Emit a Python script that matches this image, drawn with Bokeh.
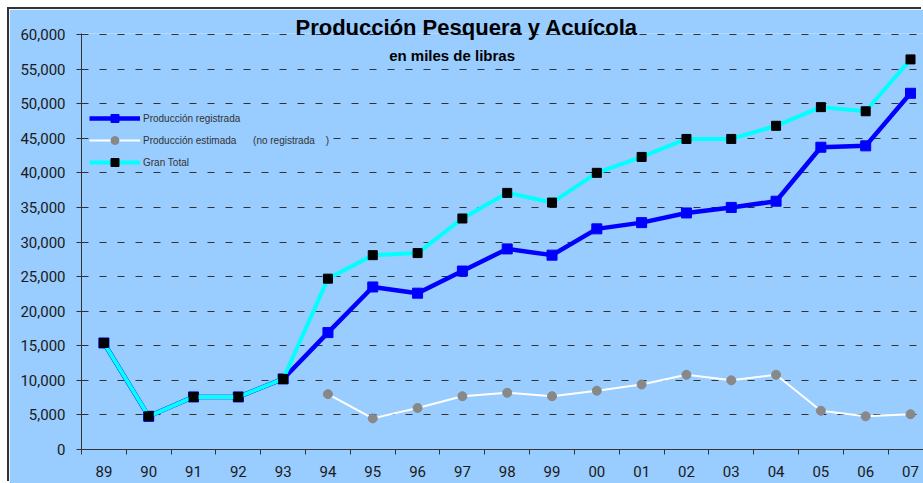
from bokeh.plotting import figure
from bokeh.models import (Range1d, FixedTicker, NumeralTickFormatter, Label,
                          Legend, LegendItem)
from bokeh.embed import file_html
from bokeh.resources import INLINE

# ---- data ----
years = ["89", "90", "91", "92", "93", "94", "95", "96", "97", "98", "99",
         "00", "01", "02", "03", "04", "05", "06", "07"]
registrada = [15400, 4800, 7600, 7600, 10200, 16900, 23500, 22600, 25800,
              29000, 28100, 31900, 32800, 34200, 35000, 35900, 43700, 43900, 51500]
estimada_years = ["94", "95", "96", "97", "98", "99", "00", "01", "02", "03",
                  "04", "05", "06", "07"]
estimada = [8000, 4500, 6000, 7700, 8200, 7700, 8500, 9400, 10800, 10000,
            10800, 5600, 4800, 5100]
total = [15400, 4800, 7600, 7600, 10200, 24700, 28100, 28400, 33400, 37100,
         35700, 40000, 42300, 44900, 44900, 46800, 49500, 48900, 56400]
y_ticks = list(range(0, 60001, 5000))

title_text = "Producción Pesquera y Acuícola"
subtitle_text = "en miles de libras"
legend_labels = ["Producción registrada",
                 "Producción estimada" + "\u00a0" * 5 + " (no registrada" + "\u00a0" * 4 + ")",
                 "Gran Total"]

xpos = {y: i + 0.5 for i, y in enumerate(years)}
x_all = [xpos[y] for y in years]
x_est = [xpos[y] for y in estimada_years]

BG = "#99CCFF"

p = figure(width=914, height=474, output_backend="svg", toolbar_location=None,
           x_range=Range1d(0, 18.79), y_range=Range1d(0, 60145),
           min_border_left=72, min_border_right=0, min_border_top=24,
           min_border_bottom=34,
           background_fill_color=BG, border_fill_color=BG,
           outline_line_color=None,
           margin=(9, 0, 0, 9),
           styles={"box-shadow": "-2px -2px 0 0 #333333"})

# title (above the frame, slightly overlapping it)
p.title.text = title_text
p.title.text_font = "Liberation Sans"
p.title.text_font_style = "bold"
p.title.text_font_size = "22px"
p.title.text_color = "black"
p.title.align = "left"
p.title.offset = 214
p.title.vertical_align = "bottom"
p.title.standoff = -12

# axes
p.xgrid.grid_line_color = None
p.ygrid.grid_line_color = "#333333"
p.ygrid.grid_line_dash = "7 11"
p.ygrid.grid_line_width = 1
p.ygrid.ticker = FixedTicker(ticks=y_ticks)

p.yaxis.ticker = FixedTicker(ticks=y_ticks)
p.yaxis.formatter = NumeralTickFormatter(format="0,0")
p.yaxis.major_tick_in = 5
p.yaxis.major_tick_out = 5
p.yaxis.minor_tick_line_color = None
p.yaxis.major_label_standoff = 11

p.xaxis.ticker = FixedTicker(ticks=x_all, minor_ticks=list(range(0, 20)))
p.xaxis.major_label_overrides = {xpos[y]: y for y in years}
p.xaxis.minor_tick_line_color = "#333333"
p.xaxis.minor_tick_in = 0
p.xaxis.minor_tick_out = 5
p.xaxis.major_label_standoff = 10

for ax in (p.xaxis, p.yaxis):
    ax.axis_line_color = "#333333"
    ax.major_label_text_font = "Roboto"
    ax.major_label_text_font_size = "15px"
    ax.major_label_text_color = "#1a1a1a"
p.yaxis.major_tick_line_color = "#333333"
p.xaxis.major_tick_line_color = None

# series
r1l = p.line(x_all, registrada, line_color="#0000FF", line_width=4.5)
r1m = p.scatter(x_all, registrada, marker="square", size=10,
                fill_color="#0000FF", line_color="#0000FF")
r2l = p.line(x_est, estimada, line_color="white", line_width=2)
r2m = p.scatter(x_est, estimada, marker="circle", size=9,
                fill_color="#888888", line_color="#888888")
r3l = p.line(x_all, total, line_color="#00FFFF", line_width=4)
r3m = p.scatter(x_all, total, marker="square", size=9,
                fill_color="black", line_color="black")

legend = Legend(items=[LegendItem(label=legend_labels[0], renderers=[r1l, r1m]),
                       LegendItem(label=legend_labels[1], renderers=[r2l, r2m]),
                       LegendItem(label=legend_labels[2], renderers=[r3l, r3m])],
                location=(8, 277), padding=3, margin=0, spacing=2,
                glyph_width=51, glyph_height=20, label_height=20,
                label_standoff=3, label_text_font="Liberation Sans",
                label_text_font_size="10px", label_text_color="#333333",
                background_fill_color=BG, background_fill_alpha=1,
                border_line_color=None)
p.add_layout(legend, "center")

p.add_layout(Label(x=8.27, y=57000, text=subtitle_text, text_align="center",
                   text_baseline="middle", text_font="Liberation Sans",
                   text_font_style="bold", text_font_size="15px",
                   text_color="black"))

open("out.html", "w").write(file_html(p, INLINE))
